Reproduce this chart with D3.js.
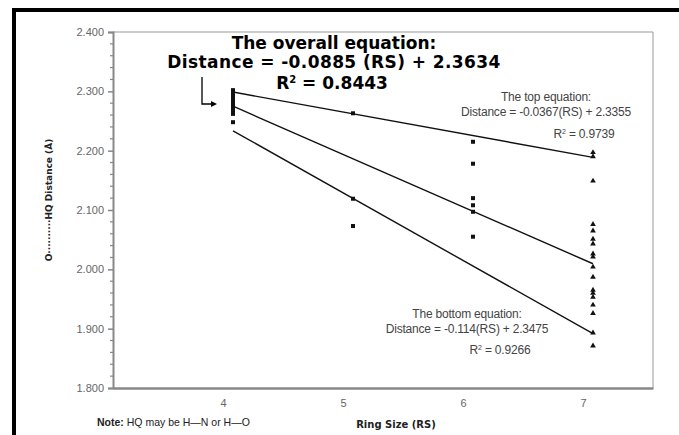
<!DOCTYPE html>
<html>
<head>
<meta charset="utf-8">
<script src="https://cdn.jsdelivr.net/npm/d3@7"></script>
<style>
  body { margin: 0; background: #fff; }
  svg { display: block; }
</style>
</head>
<body>
<svg id="chart" width="679" height="435"></svg>
<script>
// ring size categories and the O...HQ distances
var ringSizes = [4, 5, 6, 7];
var ring4Values = [2.302, 2.298, 2.294, 2.290, 2.286, 2.282, 2.278, 2.274, 2.270, 2.266, 2.262, 2.248];
var ring5Values = [2.263, 2.119, 2.073];
var ring6Values = [2.215, 2.178, 2.120, 2.108, 2.097, 2.055];
var ring7Values = [2.197, 2.190, 2.149, 2.076, 2.065, 2.051, 2.043, 2.026, 2.021, 2.004, 1.987,
                   1.965, 1.960, 1.953, 1.940, 1.926, 1.893, 1.871];

// fitted trend lines (RS index 1..4 in the printed equations)
var trendNames = ["top", "overall", "bottom"];
var trendSlopes = [-0.0367, -0.0885, -0.114];
var trendIntercepts = [2.3355, 2.3634, 2.3475];
var trendR2 = [0.9739, 0.8443, 0.9266];

var yTicks = [1.8, 1.9, 2.0, 2.1, 2.2, 2.3, 2.4];

(function () {
    "use strict";

    var svg = d3.select("#chart");
    var left = 113, right = 653, top = 32, bottom = 388;

    var x = d3.scaleLinear().domain([3, 7.5]).range([left, right]);
    var y = d3.scaleLinear().domain([1.8, 2.4]).range([bottom, top]);

    // outer black frame
    svg.append("rect")
        .attr("x", 14).attr("y", 10)
        .attr("width", 700).attr("height", 460)
        .attr("fill", "none").attr("stroke", "#000").attr("stroke-width", 4);

    // plot frame (top / right)
    svg.append("path")
        .attr("d", "M" + left + "," + top + "H" + right + "V" + bottom)
        .attr("fill", "none").attr("stroke", "#999").attr("stroke-width", 1);

    // y axis
    var yAxis = d3.axisLeft(y)
        .tickValues(yTicks)
        .tickSize(5)
        .tickFormat(d3.format(".3f"));
    var gy = svg.append("g").attr("transform", "translate(" + left + ",0)").call(yAxis);
    gy.select(".domain").attr("stroke", "#888").attr("stroke-width", 2);
    gy.selectAll(".tick line").attr("stroke", "#888").attr("stroke-width", 1.5);
    gy.selectAll(".tick text")
        .attr("fill", "#666").attr("x", -9)
        .style("font", "11px 'Liberation Sans', Arial, sans-serif");

    // minor ticks every 0.02
    var minor = d3.range(1.8, 2.4001, 0.02).filter(function (v) {
        return Math.abs(v * 10 - Math.round(v * 10)) > 0.01;
    });
    svg.append("g").selectAll("line").data(minor).enter().append("line")
        .attr("x1", left - 3).attr("x2", left)
        .attr("y1", function (d) { return y(d); })
        .attr("y2", function (d) { return y(d); })
        .attr("stroke", "#888").attr("stroke-width", 1.2);

    // x axis
    var xAxis = d3.axisBottom(x).tickValues(ringSizes).tickSize(0).tickFormat(d3.format("d"));
    var gx = svg.append("g").attr("transform", "translate(0," + bottom + ")").call(xAxis);
    gx.select(".domain").attr("stroke", "#888").attr("stroke-width", 2.5);
    gx.selectAll(".tick text")
        .attr("fill", "#666").attr("y", 11).attr("dx", -10)
        .style("font", "11px 'Liberation Sans', Arial, sans-serif");

    // trend lines from RS 4 to RS 7
    trendNames.forEach(function (name, i) {
        var x1 = 4, x2 = 7;
        svg.append("line")
            .attr("x1", x(x1)).attr("y1", y(trendSlopes[i] * (x1 - 3) + trendIntercepts[i]))
            .attr("x2", x(x2)).attr("y2", y(trendSlopes[i] * (x2 - 3) + trendIntercepts[i]))
            .attr("stroke", "#111").attr("stroke-width", 1.4);
    });

    // square markers for RS 4, 5, 6
    var squares = [];
    [[4, ring4Values], [5, ring5Values], [6, ring6Values]].forEach(function (s) {
        s[1].forEach(function (v) { squares.push({rs: s[0], v: v}); });
    });
    svg.append("g").selectAll("rect").data(squares).enter().append("rect")
        .attr("x", function (d) { return x(d.rs) - 2; })
        .attr("y", function (d) { return y(d.v) - 2; })
        .attr("width", 4).attr("height", 4)
        .attr("fill", "#111");

    // triangle markers for RS 7
    var tri = d3.symbol().type(d3.symbolTriangle).size(14);
    svg.append("g").selectAll("path").data(ring7Values).enter().append("path")
        .attr("d", tri)
        .attr("transform", function (d) { return "translate(" + x(7) + "," + y(d) + ")"; })
        .attr("fill", "#111");

    // overall equation (big bold)
    var big = "bold 17px 'DejaVu Sans', Verdana, sans-serif";
    svg.append("text").attr("x", 334).attr("y", 49).attr("text-anchor", "middle")
        .style("font", big).text("The overall equation:");
    svg.append("text").attr("x", 334).attr("y", 68).attr("text-anchor", "middle")
        .style("font", big).style("letter-spacing", "0.4px")
        .text("Distance = " + trendSlopes[1] + " (RS) + " + trendIntercepts[1]);
    var r2 = svg.append("text").attr("x", 332).attr("y", 89).attr("text-anchor", "middle")
        .style("font", big);
    r2.append("tspan").text("R");
    r2.append("tspan").attr("dy", -6).style("font-size", "10px").text("2");
    r2.append("tspan").attr("dy", 6).text(" = " + trendR2[1]);

    // arrow pointing at the RS 4 cluster
    svg.append("path")
        .attr("d", "M202,77V104H212")
        .attr("fill", "none").attr("stroke", "#000").attr("stroke-width", 1.3);
    svg.append("path")
        .attr("d", "M211,101L217,104L211,107Z")
        .attr("fill", "#000");

    // small equations
    var small = "12px 'Liberation Sans', Arial, sans-serif";
    function smallEq(cx, yTop, i, title) {
        svg.append("text").attr("x", cx).attr("y", yTop).attr("text-anchor", "middle")
            .attr("fill", "#444").style("font", small).style("letter-spacing", "-0.2px")
            .text(title);
        svg.append("text").attr("x", cx).attr("y", yTop + 15).attr("text-anchor", "middle")
            .attr("fill", "#444").style("font", small).style("letter-spacing", "-0.2px")
            .text("Distance = " + trendSlopes[i] + "(RS) + " + trendIntercepts[i]);
    }
    smallEq(546, 101, 0, "The top equation:");
    smallEq(467, 318, 2, "The bottom equation:");

    function smallR2(cx, yb, i) {
        var t = svg.append("text").attr("x", cx).attr("y", yb).attr("text-anchor", "middle")
            .attr("fill", "#444").style("font", small).style("letter-spacing", "-0.2px");
        t.append("tspan").text("R");
        t.append("tspan").attr("dy", -4).style("font-size", "7px").text("2");
        t.append("tspan").attr("dy", 4).text(" = " + trendR2[i]);
    }
    smallR2(584, 138, 0);
    smallR2(500, 354, 2);

    // axis titles
    svg.append("text")
        .attr("transform", "translate(52,200) rotate(-90)")
        .attr("text-anchor", "middle")
        .attr("fill", "#222")
        .style("font", "bold 9px 'DejaVu Sans', Verdana, sans-serif")
        .text("O\u00b7\u00b7\u00b7\u00b7\u00b7\u00b7\u00b7\u00b7\u00b7\u00b7HQ   Distance (\u00c5)");

    svg.append("text").attr("x", 396).attr("y", 428).attr("text-anchor", "middle")
        .attr("fill", "#222")
        .style("font", "bold 10px 'DejaVu Sans', Verdana, sans-serif")
        .text("Ring Size (RS)");

    var note = svg.append("text").attr("x", 97).attr("y", 426)
        .attr("fill", "#222")
        .style("font", "10.5px 'Liberation Sans', Arial, sans-serif");
    note.append("tspan").style("font-weight", "bold").text("Note:");
    note.append("tspan").text("  HQ may be H\u2014N or H\u2014O");
}());
</script>
</body>
</html>
